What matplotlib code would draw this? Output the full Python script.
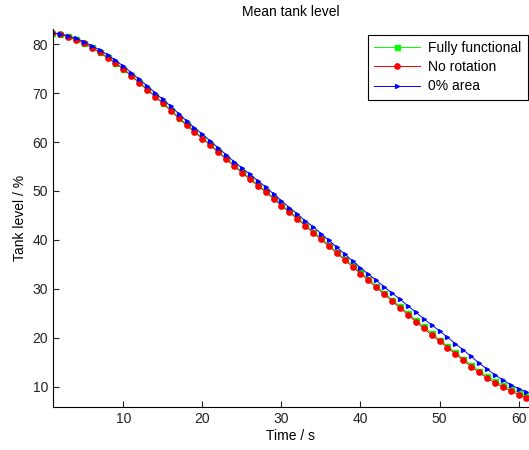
import matplotlib.pyplot as plt

plt.rcParams['font.family'] = ['Liberation Sans', 'DejaVu Sans']
plt.rcParams['font.size'] = 10

t = list(range(1, 62))

no_rotation = [82.3, 82.0, 81.5, 80.9, 80.2, 79.3, 78.3, 77.2, 76.1, 74.9,
               73.5, 72.1, 70.7, 69.3, 67.9, 66.4, 64.9, 63.4, 62.0, 60.7,
               59.3, 57.9, 56.5, 55.1, 53.7, 52.4, 51.1, 49.8, 48.4, 47.0,
               45.6, 44.3, 42.9, 41.5, 40.1, 38.7, 37.3, 35.9, 34.5, 33.1,
               31.7, 30.3, 28.9, 27.5, 26.1, 24.7, 23.3, 21.9, 20.6, 19.3,
               18.0, 16.7, 15.4, 14.1, 12.9, 11.8, 10.8, 9.9, 9.1, 8.4, 7.7]

fully_functional = [82.3, 82.0, 81.6, 81.0, 80.3, 79.4, 78.4, 77.3, 76.2, 75.0,
                    73.6, 72.2, 70.8, 69.4, 68.0, 66.5, 65.0, 63.6, 62.2, 60.9,
                    59.5, 58.1, 56.7, 55.3, 53.9, 52.6, 51.3, 50.0, 48.6, 47.2,
                    45.9, 44.5, 43.1, 41.7, 40.3, 38.9, 37.5, 36.1, 34.8, 33.4,
                    32.0, 30.6, 29.2, 27.8, 26.4, 25.0, 23.6, 22.3, 20.9, 19.6,
                    18.3, 17.0, 15.7, 14.5, 13.3, 12.2, 11.2, 10.3, 9.5, 8.8, 8.1]

zero_area = [82.3, 82.1, 81.7, 81.2, 80.5, 79.7, 78.8, 77.8, 76.7, 75.5,
             74.2, 72.8, 71.5, 70.1, 68.7, 67.3, 65.8, 64.3, 62.9, 61.6,
             60.2, 58.8, 57.4, 56.0, 54.7, 53.4, 52.1, 50.8, 49.4, 48.0,
             46.6, 45.3, 43.9, 42.7, 41.3, 39.9, 38.5, 37.1, 35.7, 34.3,
             33.0, 31.7, 30.4, 29.1, 27.9, 26.5, 25.2, 23.9, 22.6, 21.4,
             20.1, 18.8, 17.5, 16.2, 14.8, 13.6, 12.4, 11.4, 10.4, 9.6, 8.9]

fig = plt.figure(figsize=(5.29, 4.5), dpi=100)
ax = fig.add_axes([0.1002, 0.0956, 0.898, 0.84])

ax.plot(t, fully_functional, color=(0, 1, 0), linewidth=0.7,
        marker='s', markersize=3.6, label='Fully functional')
ax.plot(t, no_rotation, color=(1, 0, 0), linewidth=0.7,
        marker='o', markersize=3.8, label='No rotation')
ax.plot(t, zero_area, color=(0, 0, 1), linewidth=0.7,
        marker='>', markersize=2.8, label='0% area')

ax.set_xlim(1.1, 61.2)
ax.set_ylim(5.85, 83.1)
ax.set_xticks([10, 20, 30, 40, 50, 60])
ax.set_yticks([10, 20, 30, 40, 50, 60, 70, 80])
ax.tick_params(direction='in', length=4, width=0.8, labelsize=10,
               colors='#222222')
ax.spines['top'].set_visible(False)
ax.spines['right'].set_visible(False)

ax.set_xlabel('Time / s', fontsize=10, labelpad=2)
ax.set_ylabel('Tank level / %', fontsize=10, labelpad=4)
ax.set_title('Mean tank level', fontsize=10, pad=9)

leg = ax.legend(loc='upper right', bbox_to_anchor=(0.999, 0.985),
                borderaxespad=0, fancybox=False, edgecolor='black',
                framealpha=1, handlelength=3.3, borderpad=0.45,
                labelspacing=0.38, handletextpad=0.6, fontsize=10)
leg.get_frame().set_linewidth(0.8)

fig.savefig('out.png', dpi=100)
